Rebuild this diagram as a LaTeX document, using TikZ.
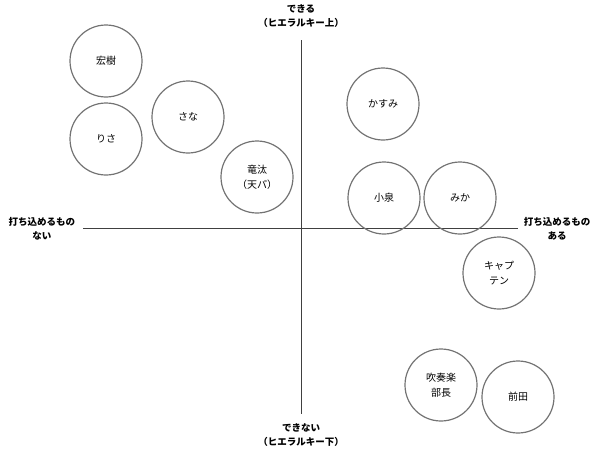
\documentclass[tikz,border=0pt]{standalone}
\usepackage{fontspec}
\newfontfamily\jp{Noto Sans CJK JP}
\begin{document}
\begin{tikzpicture}[x=1pt,y=-1pt,
  person/.style={circle,draw=black!55,line width=1.2pt,minimum size=72pt,inner sep=0pt,align=center,font=\jp\fontsize{10}{15}\selectfont},
  axis/.style={draw=black!75,line width=0.9pt},
  axlabel/.style={align=center,font=\jp\bfseries\fontsize{9.5}{14}\selectfont}]
\useasboundingbox (0,0) rectangle (600,458);
\coordinate (top) at (301,40);
\coordinate (bot) at (301,414);
\coordinate (left) at (83,228.5);
\coordinate (right) at (518,228.5);
\draw[axis] (top) -- (bot);
\draw[axis] (left) -- (right);
\node[axlabel] (tl) at (301,16) {できる\\（ヒエラルキー上）};
\node[axlabel] (bl) at (301,435) {できない\\（ヒエラルキー下）};
\node[axlabel] (ll) at (42,229) {打ち込めるもの\\ない};
\node[axlabel] (rl) at (557,229) {打ち込めるもの\\ある};
\node[person] (hiroki) at (106,61) {宏樹};
\node[person] (risa) at (106,139) {りさ};
\node[person] (sana) at (188,117) {さな};
\node[person] (ryuta) at (257,177) {竜汰\\（天パ）};
\node[person] (kasumi) at (383,104) {かすみ};
\node[person] (koizumi) at (384,198) {小泉};
\node[person] (mika) at (460,198) {みか};
\node[person] (captain) at (499,273) {キャプ\\テン};
\node[person] (bucho) at (441,385) {吹奏楽\\部長};
\node[person] (maeda) at (518,397) {前田};
\end{tikzpicture}
\end{document}
